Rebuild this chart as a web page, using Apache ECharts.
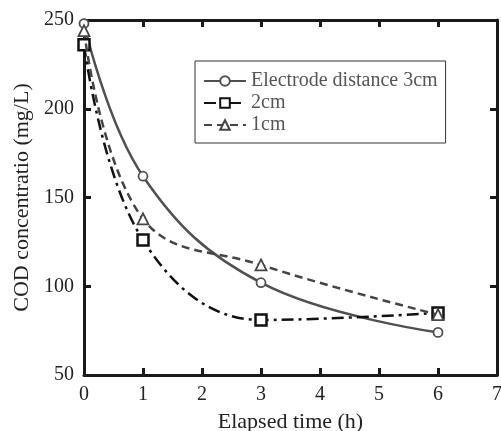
<!DOCTYPE html>
<html><head><meta charset="utf-8">
<script src="https://cdn.jsdelivr.net/npm/echarts@6/dist/echarts.min.js"></script>
<style>html,body{margin:0;padding:0;background:#fff}#c{width:501px;height:431px}</style>
</head><body><div id="c"></div>
<script>
const hours = [0, 1, 3, 6];
const d3cm = [248, 162, 102, 74];
const d2cm = [236, 126, 81, 85];
const d1cm = [244, 138, 112, 84];
const seriesNames = ['Electrode distance 3cm', '2cm', '1cm'];
const xTicks = [0, 1, 2, 3, 4, 5, 6, 7];
const yTicks = [50, 100, 150, 200, 250];

const font = 'Liberation Serif';
const pair = (arr) => hours.map((h, i) => [h, arr[i]]);
const axisBase = {
  axisLine: { show: true, onZero: false, lineStyle: { color: '#1a1a1a', width: 3 } },
  axisTick: { show: true, inside: true, length: 7, lineStyle: { color: '#1a1a1a', width: 3 } },
  splitLine: { show: false }
};
const chart = echarts.init(document.getElementById('c'));
chart.setOption({
  animation: false,
  backgroundColor: '#fff',
  grid: { left: 84, right: 4, top: 20, bottom: 56, containLabel: false, outerBoundsMode: 'none' },
  legend: {
    orient: 'vertical', left: 195, top: 61,
    data: seriesNames,
    borderColor: '#333', borderWidth: 1, padding: [10, 8, 8, 8],
    itemGap: 2, itemWidth: 42, itemHeight: 12,
    textStyle: { fontFamily: font, fontSize: 20, lineHeight: 19, color: '#555', padding: [0, 0, 0, 0] }
  },
  xAxis: [
    Object.assign({}, axisBase, {
      type: 'value', min: 0, max: 7, interval: 1, position: 'bottom',
      name: 'Elapsed time (h)', nameLocation: 'middle', nameGap: 36,
      nameTextStyle: { fontFamily: font, fontSize: 22, color: '#222' },
      axisLabel: { fontFamily: font, fontSize: 20, color: '#222', margin: 10, hideOverlap: false }
    }),
    Object.assign({}, axisBase, {
      type: 'value', min: 0, max: 7, interval: 1, position: 'top',
      axisLabel: { show: false }
    })
  ],
  yAxis: [
    Object.assign({}, axisBase, {
      type: 'value', min: 50, max: 250, interval: 50, position: 'left',
      name: 'COD concentratio (mg/L)', nameLocation: 'middle', nameGap: 48,
      nameTextStyle: { fontFamily: font, fontSize: 22, color: '#222' },
      axisLabel: { fontFamily: font, fontSize: 20, color: '#222', margin: 10 }
    }),
    Object.assign({}, axisBase, {
      type: 'value', min: 50, max: 250, interval: 50, position: 'right',
      axisLabel: { show: false }
    })
  ],
  series: [
    {
      name: seriesNames[0], type: 'line', data: pair(d3cm), smooth: 0.4,
      symbol: 'circle', symbolSize: 9, showSymbol: true,
      lineStyle: { color: '#505050', width: 2.5, type: 'solid' },
      itemStyle: { color: '#fff', borderColor: '#505050', borderWidth: 1.8 }, z: 3
    },
    {
      name: seriesNames[1], type: 'line', data: pair(d2cm), smooth: 0.4,
      symbol: 'rect', symbolSize: 11,
      lineStyle: { color: '#111', width: 2.5, type: [12, 5, 3, 5] },
      itemStyle: { color: '#fff', borderColor: '#111', borderWidth: 2.5 }, z: 4
    },
    {
      name: seriesNames[2], type: 'line', data: pair(d1cm), smooth: 0.4,
      symbol: 'triangle', symbolSize: 11,
      lineStyle: { color: '#444', width: 2.5, type: [8, 5] },
      itemStyle: { color: '#fff', borderColor: '#444', borderWidth: 1.8 }, z: 5
    }
  ]
});
</script></body></html>
